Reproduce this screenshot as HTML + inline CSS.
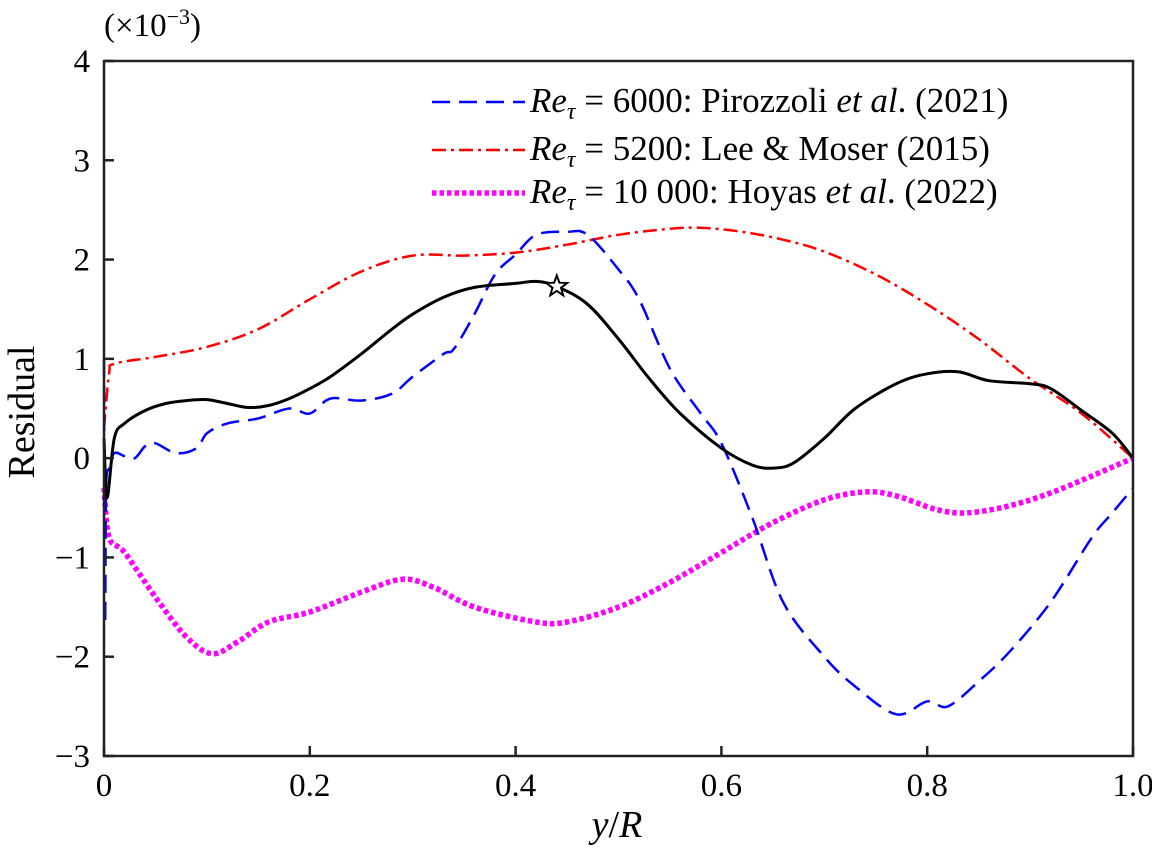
<!DOCTYPE html>
<html><head><meta charset="utf-8"><style>
body{margin:0;background:#fff}
text{font-family:"Liberation Serif",serif;fill:#000}
</style></head><body>
<svg id="chart" width="1152" height="851" xmlns="http://www.w3.org/2000/svg">
<g id="plot"></g>
</svg>
<script>
const xBlack=[0,0.003,0.01,0.02,0.04,0.06,0.08,0.1,0.12,0.14,0.16,0.18,0.2,0.22,0.25,0.28,0.3,0.33,0.36,0.4,0.42,0.44,0.47,0.5,0.53,0.56,0.6,0.63,0.65,0.67,0.7,0.73,0.77,0.8,0.83,0.86,0.9,0.92,0.95,0.98,1.0];
const yBlack=[0.2,-0.4,0.2,0.35,0.48,0.55,0.58,0.59,0.55,0.51,0.53,0.6,0.7,0.82,1.05,1.3,1.45,1.62,1.72,1.76,1.78,1.73,1.55,1.2,0.8,0.45,0.1,-0.07,-0.1,-0.05,0.2,0.5,0.75,0.85,0.87,0.78,0.75,0.7,0.48,0.25,0];
const xRed=[0,0.005,0.01,0.05,0.1,0.15,0.2,0.25,0.3,0.35,0.4,0.45,0.5,0.55,0.58,0.62,0.66,0.7,0.75,0.8,0.85,0.9,0.95,1.0];
const yRed=[0.3,0.85,0.95,1.02,1.12,1.3,1.6,1.88,2.04,2.04,2.07,2.15,2.25,2.31,2.32,2.28,2.2,2.08,1.85,1.55,1.2,0.8,0.45,0];
const xMag=[0,0.005,0.02,0.05,0.08,0.105,0.13,0.16,0.2,0.25,0.29,0.32,0.36,0.42,0.45,0.5,0.55,0.6,0.65,0.7,0.74,0.77,0.81,0.84,0.88,0.92,0.96,1.0];
const yMag=[-0.3,-0.8,-0.95,-1.4,-1.8,-1.97,-1.85,-1.65,-1.55,-1.35,-1.22,-1.3,-1.5,-1.65,-1.65,-1.5,-1.25,-0.95,-0.65,-0.42,-0.34,-0.38,-0.52,-0.55,-0.48,-0.35,-0.18,0];
const xBlue=[0,0.001,0.002,0.005,0.01,0.02,0.03,0.04,0.05,0.07,0.09,0.1,0.12,0.15,0.18,0.2,0.22,0.25,0.28,0.3,0.33,0.34,0.36,0.38,0.4,0.42,0.45,0.47,0.5,0.52,0.55,0.58,0.6,0.63,0.66,0.7,0.73,0.77,0.8,0.82,0.85,0.88,0.92,0.96,0.98,1.0];
const yBlue=[1.0,-1.65,-0.3,-0.1,0.05,0.02,0.0,0.12,0.15,0.05,0.1,0.25,0.35,0.4,0.5,0.45,0.6,0.58,0.65,0.82,1.05,1.1,1.45,1.85,2.05,2.25,2.28,2.25,1.9,1.6,0.9,0.45,0.15,-0.6,-1.45,-2.0,-2.3,-2.58,-2.45,-2.5,-2.25,-1.95,-1.45,-0.8,-0.55,-0.3];
const xTicks=[0,0.2,0.4,0.6,0.8,1.0];
const xTickLabels=["0","0.2","0.4","0.6","0.8","1.0"];
const yTicks=[-3,-2,-1,0,1,2,3,4];
const yTickLabels=["\u22123","\u22122","\u22121","0","1","2","3","4"];
const starPt=[0.44,1.73];

const L=104,R=1133,T=61,B=756;
const sx=v=>L+(R-L)*v;
const sy=v=>B-(B-T)*(v+3)/7;
const NS="http://www.w3.org/2000/svg";
const g=document.getElementById('plot');
function mk(t,a){const e=document.createElementNS(NS,t);for(const k in a)e.setAttribute(k,a[k]);g.appendChild(e);return e;}
function path(xs,ys){
 const P=xs.map((x,i)=>[sx(x),sy(ys[i])]);
 let d='M'+P[0][0].toFixed(1)+','+P[0][1].toFixed(1);
 for(let i=0;i<P.length-1;i++){
  const p0=P[Math.max(i-1,0)],p1=P[i],p2=P[i+1],p3=P[Math.min(i+2,P.length-1)];
  const c1=[p1[0]+(p2[0]-p0[0])/6,p1[1]+(p2[1]-p0[1])/6];
  const c2=[p2[0]-(p3[0]-p1[0])/6,p2[1]-(p3[1]-p1[1])/6];
  d+='C'+c1[0].toFixed(1)+','+c1[1].toFixed(1)+' '+c2[0].toFixed(1)+','+c2[1].toFixed(1)+' '+p2[0].toFixed(1)+','+p2[1].toFixed(1);
 }
 return d;
}

let e;
e=mk('path',{d:path(xRed,yRed),fill:'none',stroke:'#ff0000','stroke-width':2.5,'stroke-dasharray':'14 5 3 5'});


e=mk('path',{d:path(xMag,yMag),fill:'none',stroke:'#ff00ff','stroke-width':5.5,'stroke-dasharray':'4.5 3'});


e=mk('path',{d:path(xBlue,yBlue),fill:'none',stroke:'#0000ff','stroke-width':2.5,'stroke-dasharray':'18 9'});


e=mk('path',{d:path(xBlack,yBlack),fill:'none',stroke:'#000','stroke-width':3});



{const cx=sx(starPt[0]),cy=sy(starPt[1]);let p=[];for(let i=0;i<10;i++){const r=i%2?4.5:11,a=-Math.PI/2+i*Math.PI/5;p.push((cx+r*Math.cos(a)).toFixed(1)+','+(cy+r*Math.sin(a)).toFixed(1));}
e=mk('polygon',{points:p.join(' '),fill:'#fff',stroke:'#000','stroke-width':2});

}

e=mk('rect',{x:L,y:T,width:R-L,height:B-T,fill:'none',stroke:'#222','stroke-width':2.5});


xTicks.forEach((v,i)=>{
 e=mk('line',{x1:sx(v),x2:sx(v),y1:B,y2:B-10,stroke:'#222','stroke-width':2.5});
 
 
 e=mk('text',{x:sx(v),y:B+40,'text-anchor':'middle','font-size':33});
 e.textContent=xTickLabels[i];
 
 
});
yTicks.forEach((v,i)=>{
 e=mk('line',{x1:L,x2:L+10,y1:sy(v),y2:sy(v),stroke:'#222','stroke-width':2.5});
 
 
 e=mk('text',{x:L-14,y:sy(v)+11,'text-anchor':'end','font-size':33});
 e.textContent=yTickLabels[i];
 
 
});
</script>
<svg style="position:absolute;left:0;top:0" width="1152" height="851" xmlns="http://www.w3.org/2000/svg">
<text x="104" y="36" font-size="33">(×10<tspan dy="-12" font-size="22">−3</tspan><tspan dy="12">)</tspan></text>
<text x="34" y="412" font-size="38" text-anchor="middle" transform="rotate(-90 34 412)">Residual</text>
<text x="617" y="837" font-size="38" text-anchor="middle"><tspan font-style="italic">y</tspan>/<tspan font-style="italic">R</tspan></text>
<g font-size="35">
<line x1="432" x2="525" y1="102" y2="102" stroke="#0000ff" stroke-width="2.5" stroke-dasharray="18 9"/>
<text x="530" y="112"><tspan font-style="italic">Re</tspan><tspan font-style="italic" dy="7" font-size="24">τ</tspan><tspan dy="-7"> = 6000: Pirozzoli </tspan><tspan font-style="italic">et al</tspan>. (2021)</text>
<line x1="432" x2="525" y1="150" y2="150" stroke="#ff0000" stroke-width="2.5" stroke-dasharray="14 5 3 5"/>
<text x="530" y="160"><tspan font-style="italic">Re</tspan><tspan font-style="italic" dy="7" font-size="24">τ</tspan><tspan dy="-7"> = 5200: Lee &amp; Moser (2015)</tspan></text>
<line x1="432" x2="525" y1="193" y2="193" stroke="#ff00ff" stroke-width="5.5" stroke-dasharray="4.5 3"/>
<text x="530" y="203"><tspan font-style="italic">Re</tspan><tspan font-style="italic" dy="7" font-size="24">τ</tspan><tspan dy="-7"> = 10 000: Hoyas </tspan><tspan font-style="italic">et al</tspan>. (2022)</text>
</g>
</svg>
</body></html>
